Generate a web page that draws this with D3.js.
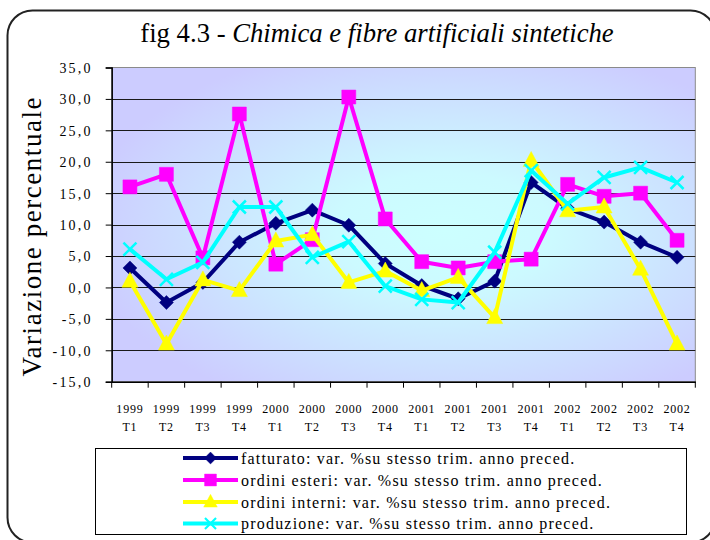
<!DOCTYPE html>
<html>
<head>
<meta charset="utf-8">
<script src="https://cdnjs.cloudflare.com/ajax/libs/d3/7.8.5/d3.min.js"></script>
<style>
  html, body { margin: 0; padding: 0; background: #fff; }
  svg { display: block; }
  svg text { font-family: "Liberation Serif", "Times New Roman", serif !important; fill: #000; }
</style>
</head>
<body>
<svg id="chart" width="710" height="540"></svg>
<script>
// ---- data ----
const years = ["1999","1999","1999","1999","2000","2000","2000","2000","2001","2001","2001","2001","2002","2002","2002","2002"];
const quarters = ["T1","T2","T3","T4","T1","T2","T3","T4","T1","T2","T3","T4","T1","T2","T3","T4"];
const fatturato = [3.1, -2.4, 0.8, 7.2, 10.2, 12.3, 9.9, 3.8, 0.3, -1.8, 1.0, 16.7, 12.6, 10.4, 7.2, 4.8];
const ordiniEsteri = [16.0, 18.0, 4.7, 27.6, 3.7, 7.6, 30.3, 10.9, 4.1, 3.1, 4.1, 4.5, 16.4, 14.5, 15.0, 7.5];
const ordiniInterni = [1.0, -9.0, 1.2, -0.5, 7.4, 8.4, 0.8, 2.6, -0.5, 1.6, -4.8, 20.2, 12.2, 12.8, 2.9, -9.0];
const produzione = [6.1, 1.3, 4.0, 12.8, 12.8, 4.8, 7.3, 0.2, -1.9, -2.4, 5.6, 18.6, 13.3, 17.5, 19.1, 16.7];
const yTicks = [-15, -10, -5, 0, 5, 10, 15, 20, 25, 30, 35];
const seriesNames = [
  "fatturato: var. %su stesso trim. anno preced.",
  "ordini esteri: var. %su stesso trim. anno preced.",
  "ordini interni: var. %su stesso trim. anno preced.",
  "produzione: var. %su stesso trim. anno preced."
];
const titleMain = "fig 4.3 - ";
const titleItalic = "Chimica e fibre artificiali sintetiche";
const yTitle = "Variazione percentuale";

const categories = years.map((y, i) => y + " " + quarters[i]);
const series = [
  { name: seriesNames[0], values: fatturato, color: "#000080", marker: "diamond" },
  { name: seriesNames[1], values: ordiniEsteri, color: "#FF00FF", marker: "square" },
  { name: seriesNames[2], values: ordiniInterni, color: "#FFFF00", marker: "triangle" },
  { name: seriesNames[3], values: produzione, color: "#00FFFF", marker: "x" }
];

// ---- layout ----
const svg = d3.select("#chart");
const P = { left: 111.7, right: 695.3, top: 67.5, bottom: 381.7 };
const FONT = "'Liberation Serif', 'Times New Roman', serif";

const defs = svg.append("defs");
const grad = defs.append("radialGradient").attr("id", "bg")
  .attr("cx", "0.57").attr("cy", "0.52").attr("r", "0.62")
  .attr("fx", "0.57").attr("fy", "0.52");
grad.append("stop").attr("offset", "0%").attr("stop-color", "#CCFFFF");
grad.append("stop").attr("offset", "30%").attr("stop-color", "#CCFAFF");
grad.append("stop").attr("offset", "100%").attr("stop-color", "#CCCCFF");

// outer rounded border
svg.append("rect").attr("x", 7.5).attr("y", 10.5).attr("width", 708).attr("height", 532)
  .attr("rx", 25).attr("ry", 25).attr("fill", "#fff").attr("stroke", "#222").attr("stroke-width", 2);

const x = d3.scaleBand().domain(categories).range([P.left, P.right]).padding(0);
const y = d3.scaleLinear().domain([-15, 35]).range([P.bottom, P.top]);
const cx = c => x(c) + x.bandwidth() / 2;

// plot area
svg.append("rect").attr("x", P.left).attr("y", P.top)
  .attr("width", P.right - P.left).attr("height", P.bottom - P.top)
  .attr("fill", "url(#bg)").attr("stroke", "#8a8a8a").attr("stroke-width", 1);

// gridlines
svg.append("g").selectAll("line")
  .data(yTicks.filter(v => v > -15 && v < 35))
  .join("line")
  .attr("x1", P.left).attr("x2", P.right)
  .attr("y1", d => Math.round(y(d)) + 0.5).attr("y2", d => Math.round(y(d)) + 0.5)
  .attr("stroke", "#1a1a1a").attr("stroke-width", 1);

// y axis
const yAxis = d3.axisLeft(y).tickValues(yTicks).tickSize(6).tickPadding(13)
  .tickFormat(d => d3.format(".1f")(d).replace(".", ",").replace("−", "-"));
const gy = svg.append("g").attr("transform", `translate(${P.left},0)`).call(yAxis)
  .attr("font-family", FONT);
gy.select(".domain").attr("stroke", "#000").attr("stroke-width", 1.5);
gy.selectAll(".tick line").attr("stroke", "#000");
gy.selectAll(".tick text").style("font-family", FONT).style("font-size", "14px")
  .style("letter-spacing", "2.2px").attr("dy", "0.35em");

// x axis (labels)
const xAxis = d3.axisBottom(x).tickSize(0).tickFormat("");
const gx = svg.append("g").attr("transform", `translate(0,${P.bottom})`).call(xAxis)
  .attr("font-family", FONT);
gx.select(".domain").attr("stroke", "#000").attr("stroke-width", 1.5);
gx.selectAll(".tick").each(function(d, i) {
  const t = d3.select(this).append("text").attr("text-anchor", "middle")
    .style("font-family", FONT).style("font-size", "12px").style("letter-spacing", "0.8px");
  t.append("tspan").attr("x", 0).attr("y", 31).text(years[i]);
  t.append("tspan").attr("x", 0).attr("y", 49).text(quarters[i]);
});
// boundary tick marks
const bounds = categories.map(c => x(c)).concat([P.right]);
svg.append("g").selectAll("line").data(bounds).join("line")
  .attr("x1", d => d).attr("x2", d => d)
  .attr("y1", P.bottom).attr("y2", P.bottom + 6)
  .attr("stroke", "#000").attr("stroke-width", 1);

// marker shapes
function markerPath(type) {
  switch (type) {
    case "diamond": return "M0,-7L7,0L0,7L-7,0Z";
    case "square": return "M-7,-7H7V7H-7Z";
    case "triangle": return "M0,-9L8,6H-8Z";
    case "x": return "M-6.5,-6.5L6.5,6.5M-6.5,6.5L6.5,-6.5";
  }
}
function drawMarker(g, type, color) {
  if (type === "x") {
    g.append("path").attr("d", markerPath(type)).attr("fill", "none")
      .attr("stroke", color).attr("stroke-width", 2.5);
  } else {
    g.append("path").attr("d", markerPath(type)).attr("fill", color).attr("stroke", color).attr("stroke-width", 0.5);
  }
}

// series
const line = d3.line().x((d, i) => cx(categories[i])).y(d => y(d));
series.forEach(s => {
  const g = svg.append("g");
  g.append("path").datum(s.values).attr("d", line)
    .attr("fill", "none").attr("stroke", s.color).attr("stroke-width", 4)
    .attr("stroke-linejoin", "round");
  g.selectAll("g.m").data(s.values).join("g").attr("class", "m")
    .attr("transform", (d, i) => `translate(${cx(categories[i])},${y(d)})`)
    .each(function() { drawMarker(d3.select(this), s.marker, s.color); });
});

// title
const title = svg.append("text").attr("x", 377).attr("y", 42).attr("text-anchor", "middle")
  .style("font-family", FONT).style("font-size", "26.7px");
title.append("tspan").text(titleMain);
title.append("tspan").style("font-style", "italic").text(titleItalic);

// y title
svg.append("text").attr("transform", "translate(41,237) rotate(-90)")
  .attr("text-anchor", "middle").style("font-family", FONT).style("font-size", "27px")
  .attr("textLength", 279).attr("lengthAdjust", "spacing")
  .text(yTitle);

// legend
const L = { x: 95.5, y: 448.5, w: 591, h: 86 };
svg.append("rect").attr("x", L.x).attr("y", L.y).attr("width", L.w).attr("height", L.h)
  .attr("fill", "#fff").attr("stroke", "#000").attr("stroke-width", 1);
const rowY = [458, 480, 502, 523.5];
series.forEach((s, i) => {
  const g = svg.append("g").attr("transform", `translate(0,${rowY[i]})`);
  g.append("line").attr("x1", 183).attr("x2", 238).attr("y1", 0).attr("y2", 0)
    .attr("stroke", s.color).attr("stroke-width", 4);
  const m = g.append("g").attr("transform", "translate(210.5,0) scale(0.85)");
  drawMarker(m, s.marker, s.color);
  g.append("text").attr("x", 241).attr("y", 5.5).style("font-family", FONT).style("font-size", "16px")
    .style("letter-spacing", "1.2px").text(s.name);
});
</script>
</body>
</html>
